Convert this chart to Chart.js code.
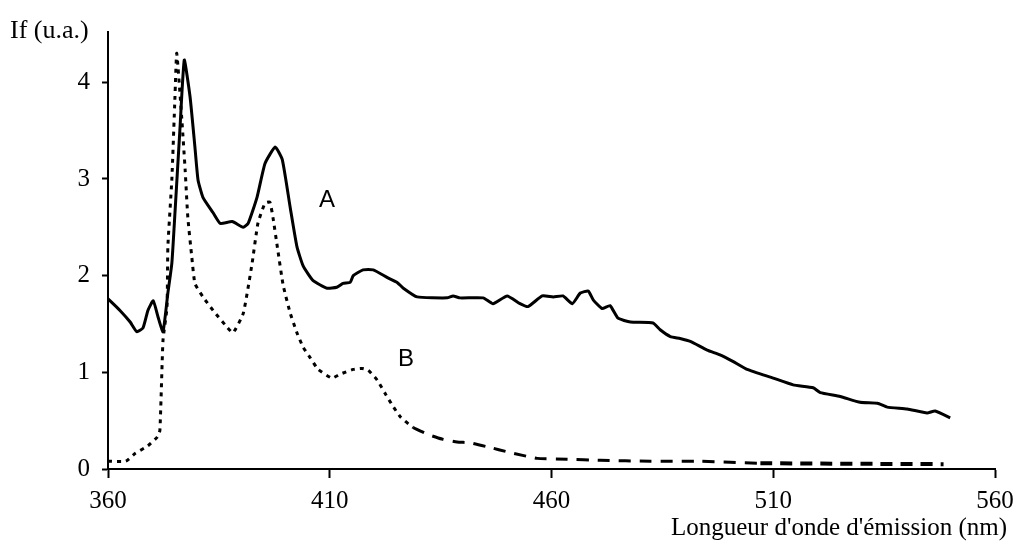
<!DOCTYPE html>
<html>
<head>
<meta charset="utf-8">
<script src="https://cdn.jsdelivr.net/npm/chart.js@4"></script>
<style>
  body { margin: 0; background: #fff; }
  #wrap { width: 1017px; height: 545px; position: relative; }
</style>
</head>
<body>
<div id="wrap"><canvas id="spectre"></canvas></div>
<script>
// courbe A (trait plein)
const waveA = [360.0, 362.7, 365.0, 366.5, 367.9, 369.0, 370.2, 371.3, 372.4, 373.5, 374.4, 375.1, 376.2, 377.2, 378.5, 379.6, 380.3, 381.4, 383.7, 385.3, 388.0, 390.5, 391.6, 393.6, 395.4, 397.7, 399.3, 401.1, 402.6, 404.0, 406.2, 409.4, 411.6, 413.0, 414.6, 415.3, 417.5, 419.8, 423.0, 425.2, 426.6, 429.7, 436.5, 437.8, 439.4, 444.6, 446.8, 450.0, 452.9, 454.7, 457.9, 460.4, 462.6, 464.7, 466.5, 468.3, 469.4, 471.4, 473.2, 475.0, 477.8, 482.9, 484.5, 486.8, 489.0, 491.3, 495.1, 498.0, 501.0, 504.1, 510.0, 514.5, 519.0, 520.6, 525.1, 529.6, 533.5, 535.7, 540.2, 544.7, 546.5, 549.9];
const intA = [1.76, 1.64, 1.52, 1.42, 1.46, 1.64, 1.74, 1.57, 1.42, 1.82, 2.13, 2.65, 3.5, 4.23, 3.85, 3.33, 2.99, 2.81, 2.65, 2.54, 2.56, 2.5, 2.54, 2.81, 3.16, 3.33, 3.2, 2.7, 2.3, 2.1, 1.95, 1.87, 1.88, 1.92, 1.93, 2.0, 2.06, 2.06, 1.98, 1.93, 1.87, 1.78, 1.77, 1.79, 1.77, 1.77, 1.71, 1.79, 1.71, 1.68, 1.79, 1.78, 1.79, 1.71, 1.82, 1.84, 1.75, 1.66, 1.69, 1.56, 1.52, 1.51, 1.44, 1.37, 1.35, 1.32, 1.23, 1.18, 1.11, 1.03, 0.94, 0.87, 0.84, 0.79, 0.75, 0.69, 0.68, 0.64, 0.62, 0.58, 0.6, 0.53];

// courbe B (pointillés)
const waveB = [360.0, 364.0, 366.1, 369.0, 371.1, 371.7, 372.4, 373.3, 373.5, 374.4, 375.1, 375.5, 376.7, 377.4, 378.0, 378.9, 379.6, 381.4, 383.7, 386.8, 388.2, 390.5, 392.5, 393.8, 395.4, 396.5, 397.2, 398.3, 399.5, 401.1, 402.6, 404.0, 405.6, 407.4, 410.5, 412.3, 415.3, 417.3, 418.7, 420.7, 422.5, 424.1, 425.9, 428.8, 432.6, 435.3, 438.7, 441.7, 445.5, 450.7, 456.8, 463.5, 471.0, 482.3, 493.5, 507.1, 548.4];
const intB = [0.08, 0.08, 0.16, 0.24, 0.33, 0.4, 1.33, 1.67, 2.3, 3.0, 3.85, 4.3, 3.58, 3.09, 2.6, 2.19, 1.92, 1.78, 1.64, 1.47, 1.41, 1.61, 2.13, 2.54, 2.75, 2.76, 2.6, 2.26, 1.9, 1.61, 1.41, 1.26, 1.15, 1.03, 0.94, 0.98, 1.03, 1.04, 1.02, 0.92, 0.78, 0.66, 0.54, 0.43, 0.35, 0.31, 0.28, 0.27, 0.23, 0.17, 0.11, 0.10, 0.09, 0.08, 0.08, 0.06, 0.05];

const xTicks = [360, 410, 460, 510, 560];
const yTicks = [0, 1, 2, 3, 4];

const curveLabels = [
    { text: 'A', x: 409.4, y: 2.78 },
    { text: 'B', x: 427.2, y: 1.13 }
];

const serif = '"Liberation Serif", "Times New Roman", serif';

function toPoints(xs, ys) {
    return xs.map((x, i) => ({ x: x, y: ys[i] }));
}

// textes : titres des axes + lettres des courbes
const textPlugin = {
    id: 'textes',
    afterDraw(chart) {
        const ctx = chart.ctx;
        const sx = chart.scales.x;
        const sy = chart.scales.y;
        ctx.save();
        ctx.fillStyle = '#000';
        ctx.font = '26px ' + serif;
        ctx.textBaseline = 'alphabetic';
        ctx.textAlign = 'left';
        ctx.fillText('If (u.a.)', 10, 38);
        ctx.font = '25px ' + serif;
        ctx.textAlign = 'right';
        ctx.fillText("Longueur d'onde d'émission (nm)", 1007, 535);

        ctx.font = '24px "Liberation Sans", Arial, sans-serif';
        ctx.textAlign = 'center';
        ctx.textBaseline = 'middle';
        curveLabels.forEach(l => {
            ctx.fillText(l.text, sx.getPixelForValue(l.x), sy.getPixelForValue(l.y));
        });
        ctx.restore();
    }
};

const ctx = document.getElementById('spectre').getContext('2d');
const chart = new Chart(ctx, {
    type: 'line',
    data: {
        datasets: [
            {
                label: 'A',
                data: toPoints(waveA, intA),
                borderColor: '#000',
                borderWidth: 3,
                pointRadius: 0,
                tension: 0.15,
                fill: false
            },
            {
                label: 'B',
                data: toPoints(waveB, intB),
                borderColor: '#000',
                borderWidth: 3,
                pointRadius: 0,
                tension: 0.15,
                fill: false,
                segment: {
                    // pointillé fin sur les pics, tirets ensuite
                    borderDash: c => c.p0.parsed.x < 428 ? [4, 5] : (c.p0.parsed.x < 505 ? [12, 9] : [12, 8]),
                    borderWidth: c => c.p0.parsed.x < 505 ? 3 : 4
                }
            }
        ]
    },
    options: {
        responsive: true,
        maintainAspectRatio: false,
        animation: false,
        devicePixelRatio: 1,
        layout: { padding: { top: 32, right: 22, left: 0, bottom: 0 } },
        plugins: {
            legend: { display: false },
            tooltip: { enabled: false }
        },
        scales: {
            x: {
                type: 'linear',
                min: 360,
                max: 560,
                afterBuildTicks: s => { s.ticks = xTicks.map(v => ({ value: v })); },
                afterFit: s => { s.height = 76; s.paddingLeft = 0; s.paddingRight = 0; },
                border: { display: true, color: '#000', width: 2 },
                grid: { drawOnChartArea: false, drawTicks: true, tickLength: 9, tickColor: '#000', tickWidth: 2 },
                ticks: { color: '#000', font: { family: serif, size: 25 }, padding: 8, maxRotation: 0 }
            },
            y: {
                min: 0,
                max: 4.52,
                afterBuildTicks: s => { s.ticks = yTicks.map(v => ({ value: v })); },
                afterFit: s => { s.width = 108; s.paddingTop = 0; s.paddingBottom = 0; },
                border: { display: true, color: '#000', width: 2 },
                grid: { drawOnChartArea: false, drawTicks: true, tickLength: 6, tickColor: '#000', tickWidth: 2 },
                ticks: { color: '#000', font: { family: serif, size: 25 }, padding: 12 }
            }
        }
    },
    plugins: [textPlugin]
});
</script>
</body>
</html>
